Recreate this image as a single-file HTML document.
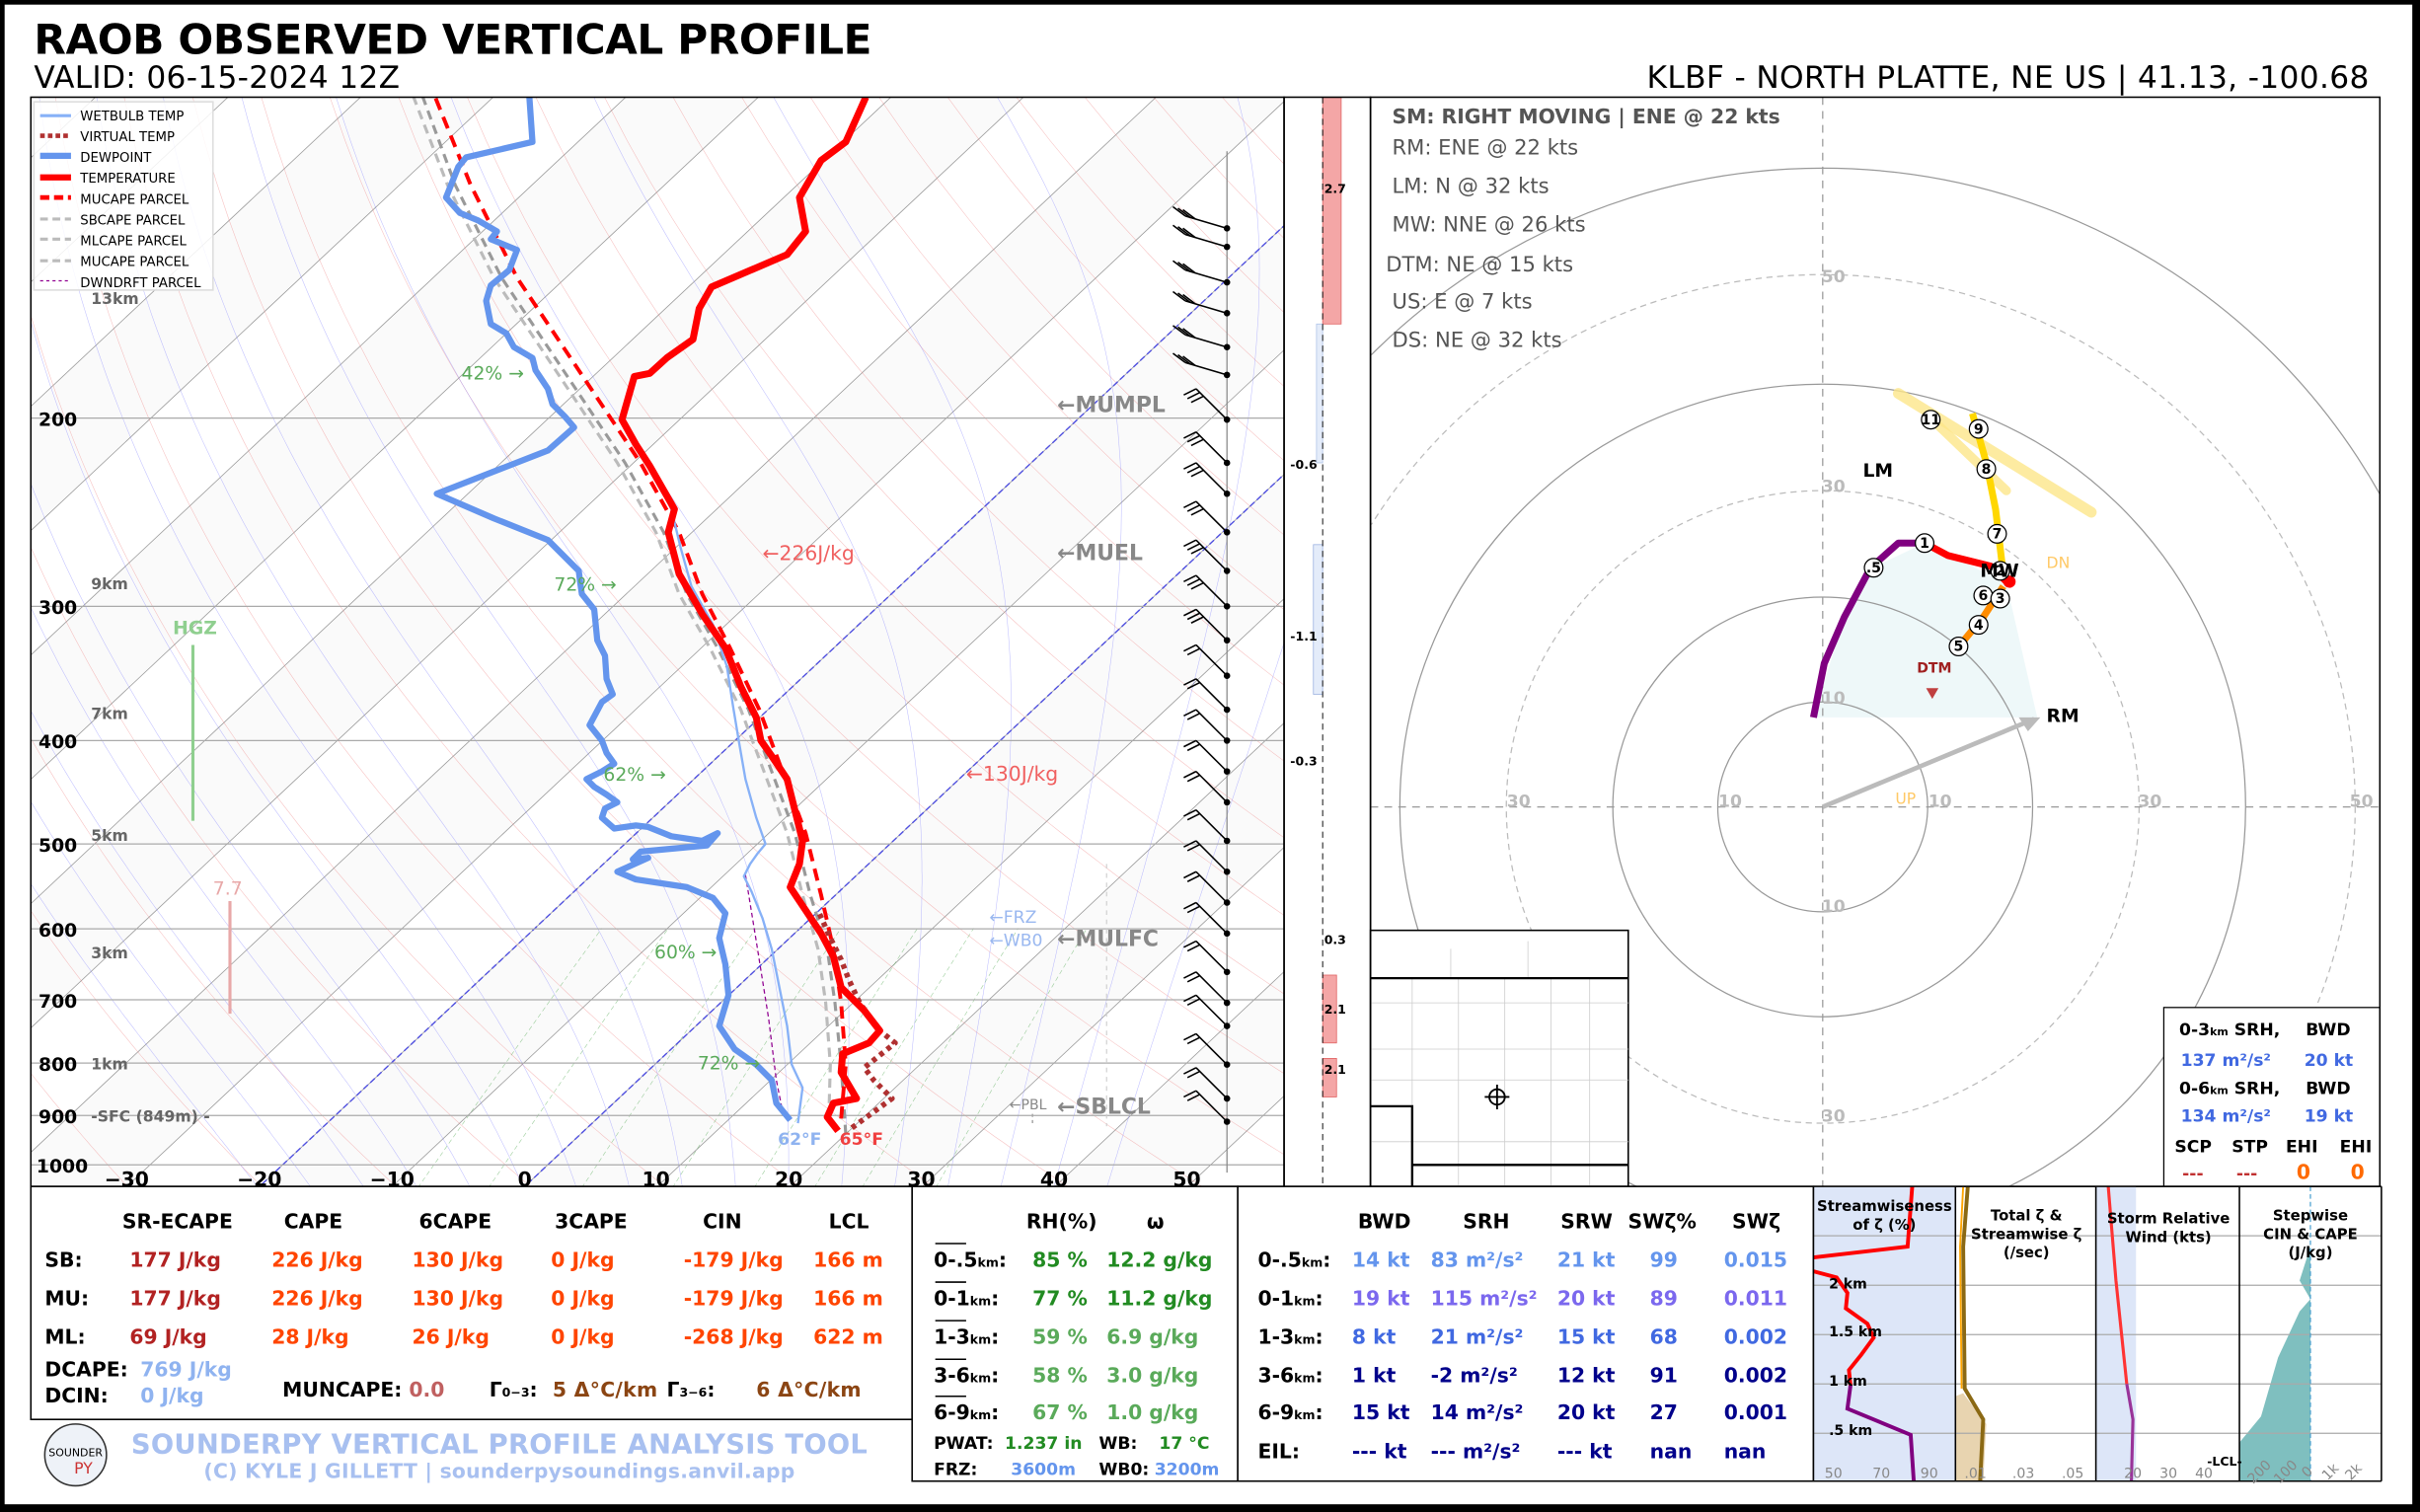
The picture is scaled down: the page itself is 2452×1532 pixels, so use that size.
<!DOCTYPE html>
<html><head><meta charset="utf-8"><style>
html,body{margin:0;padding:0;background:#000;}
svg{display:block;}
text{font-family:"DejaVu Sans","Liberation Sans",sans-serif;}
</style></head><body>
<svg id="s" width="2452" height="1532" viewBox="0 0 1568 980" preserveAspectRatio="none" xmlns="http://www.w3.org/2000/svg">
<rect x="0" y="0" width="1568" height="980" fill="#000"/>
<rect x="3" y="3" width="1560" height="972" fill="#fff"/>
<defs><clipPath id="ck"><rect x="20" y="63" width="812" height="706"/></clipPath>
<clipPath id="ch"><rect x="888" y="63" width="654" height="706"/></clipPath></defs>

<text x="22" y="35" font-size="27" font-weight="bold" textLength="543">RAOB OBSERVED VERTICAL PROFILE</text>
<text x="22" y="57" font-size="20" textLength="237">VALID: 06-15-2024 12Z</text>
<text x="1535" y="57" font-size="20" text-anchor="end" textLength="468">KLBF - NORTH PLATTE, NE US | 41.13, -100.68</text>

<g id="bg" clip-path="url(#ck)"></g>
<g clip-path="url(#ck)" fill="none" stroke-linejoin="round">
<g stroke="#aaa" stroke-width="0.8">
<line x1="20" x2="888" y1="271" y2="271"/><line x1="20" x2="888" y1="393" y2="393"/><line x1="20" x2="888" y1="480" y2="480"/><line x1="20" x2="888" y1="547" y2="547"/><line x1="20" x2="888" y1="602" y2="602"/><line x1="20" x2="888" y1="648" y2="648"/><line x1="20" x2="888" y1="689" y2="689"/><line x1="20" x2="888" y1="723" y2="723"/><line x1="20" x2="888" y1="755" y2="755"/>
</g>
<polyline stroke="#bbb" stroke-width="2" stroke-dasharray="6,4" points="537,725 538,690 535,650 530,615 520,580 510,540 495,500 480,460 460,420 440,385 425,345 400,300 360,240 320,180 290,120 268,63"/>
<polyline stroke="#999" stroke-width="2" stroke-dasharray="6,4" points="548,735 545,690 541,650 536,615 525,580 515,540 500,500 485,460 465,420 445,385 430,345 405,300 365,240 325,180 295,120 274,63"/>
<polyline stroke="#f00" stroke-width="2.5" stroke-dasharray="8,5" points="545,725 548,690 545,650 540,615 532,580 522,540 507,500 492,460 473,420 455,385 440,345 415,300 375,240 335,180 305,120 282,63"/>
<polyline stroke="#900090" stroke-width="0.8" stroke-dasharray="3,2" points="483,567 490,610 498,660 503,700 508,725"/>
<polyline stroke="#87b1f7" stroke-width="1.5" points="517,728 520,705 513,690 510,665 505,640 500,615 494,595 487,578 482,568 486,560 491,553 496,547 490,530 483,505 479,482 475,458 471,432 462,405 448,380 441,355 435,330 420,300 404,272"/>
<polyline stroke="#6495ed" stroke-width="4" points="343,63 345,92 302,102 297,108 289,128 298,138 310,143 322,150 318,155 335,162 330,175 318,185 315,195 318,210 328,216 333,225 345,232 347,240 355,252 358,262 366,270 372,277 355,292 283,320 320,336 355,350 375,370 376,378 377,385 385,395 387,415 392,425 393,440 397,450 390,455 382,470 390,480 393,488 398,495 390,500 380,505 385,510 393,515 400,520 392,524 390,530 398,537 412,535 420,536 435,542 455,545 465,540 458,548 415,552 410,557 420,556 400,565 412,570 445,575 462,582 470,592 466,608 470,625 472,645 466,665 476,680 490,690 500,700 503,715 512,726"/>
<polyline stroke="#b03030" stroke-width="3.5" stroke-dasharray="3,3" points="552,731 578,712 566,700 560,692 580,676 570,668 557,650 550,635 545,622 538,608 530,590"/>
<polyline stroke="#f00" stroke-width="4.5" points="561,63 548,92 532,104 518,128 522,150 510,165 461,186 453,200 449,220 432,232 421,242 411,244 403,272 412,288 421,302 437,330 433,345 440,372 455,398 470,420 480,445 490,465 493,480 500,490 510,505 515,525 520,545 518,560 512,575 522,590 532,605 540,620 545,640 560,655 570,668 563,676 546,683 545,695 555,712 540,715 536,724 543,733"/>
</g>
<rect x="20" y="63" width="812" height="706" fill="none" stroke="#000" stroke-width="1"/>

<g font-weight="bold" fill="#888" font-size="14">
<text x="685" y="267">←MUMPL</text><text x="685" y="363">←MUEL</text><text x="685" y="613">←MULFC</text><text x="685" y="722">←SBLCL</text>
</g>
<text x="654" y="719" font-size="9" fill="#888">←PBL</text>
<line x1="669" y1="722" x2="669" y2="730" stroke="#aaa" stroke-dasharray="2,2"/>
<line x1="717" y1="560" x2="717" y2="730" stroke="#ccc" stroke-width="0.7" stroke-dasharray="3,3"/>
<text x="641" y="598" font-size="11" fill="#9ab8f0">←FRZ</text><text x="641" y="613" font-size="11" fill="#9ab8f0">←WB0</text>
<text x="494" y="363" font-size="13" fill="#f06060">←226J/kg</text><text x="626" y="506" font-size="13" fill="#f06060">←130J/kg</text>
<g font-size="12" fill="#5aaa5a"><text x="299" y="246">42% →</text><text x="359" y="383">72% →</text><text x="391" y="506">62% →</text><text x="424" y="621">60% →</text><text x="452" y="693">72% →</text></g>
<g font-size="10" fill="#666" font-weight="bold"><text x="59" y="197">13km</text><text x="59" y="382">9km</text><text x="59" y="466">7km</text><text x="59" y="545">5km</text><text x="59" y="621">3km</text><text x="59" y="693">1km</text><text x="59" y="727">-SFC (849m) -</text></g>
<text x="112" y="411" font-size="12" fill="#8fcf8f" font-weight="bold">HGZ</text>
<line x1="125" y1="418" x2="125" y2="532" stroke="#8fcf8f" stroke-width="2"/>
<text x="138" y="580" font-size="12" fill="#e8a8a8">7.7</text>
<line x1="149" y1="584" x2="149" y2="657" stroke="#e8a8a8" stroke-width="2"/>
<text x="504" y="742" font-size="11" fill="#8fb3f0" font-weight="bold">62°F</text>
<text x="544" y="742" font-size="11" fill="#f04040" font-weight="bold">65°F</text>
<g font-size="12" font-weight="bold" text-anchor="end">
<text x="50" y="276">200</text><text x="50" y="398">300</text><text x="50" y="485">400</text><text x="50" y="552">500</text><text x="50" y="607">600</text><text x="50" y="653">700</text><text x="50" y="694">800</text><text x="50" y="728">900</text><text x="57" y="760">1000</text></g>
<g font-size="13" font-weight="bold" text-anchor="middle">
<text x="82" y="769">−30</text><text x="168" y="769">−20</text><text x="254" y="769">−10</text><text x="340" y="769">0</text><text x="425" y="769">10</text><text x="511" y="769">20</text><text x="597" y="769">30</text><text x="683" y="769">40</text><text x="769" y="769">50</text></g>

<rect x="22" y="66" width="116" height="122" fill="#fff" fill-opacity="0.85" stroke="#ddd"/>
<g font-size="8.5"><text x="52" y="78">WETBULB TEMP</text><text x="52" y="91.5">VIRTUAL TEMP</text><text x="52" y="105">DEWPOINT</text><text x="52" y="118.5">TEMPERATURE</text><text x="52" y="132">MUCAPE PARCEL</text><text x="52" y="145.5">SBCAPE PARCEL</text><text x="52" y="159">MLCAPE PARCEL</text><text x="52" y="172.5">MUCAPE PARCEL</text><text x="52" y="186">DWNDRFT PARCEL</text></g>
<g stroke-width="2"><line x1="26" x2="46" y1="75" y2="75" stroke="#87b1f7"/><line x1="26" x2="46" y1="88" y2="88" stroke="#b03030" stroke-width="3" stroke-dasharray="3,2"/><line x1="26" x2="46" y1="101" y2="101" stroke="#6495ed" stroke-width="4"/><line x1="26" x2="46" y1="115" y2="115" stroke="#f00" stroke-width="4"/><line x1="26" x2="46" y1="128" y2="128" stroke="#f00" stroke-width="3" stroke-dasharray="6,3"/><line x1="26" x2="46" y1="142" y2="142" stroke="#bbb" stroke-dasharray="5,3"/><line x1="26" x2="46" y1="155" y2="155" stroke="#bbb" stroke-dasharray="5,3"/><line x1="26" x2="46" y1="169" y2="169" stroke="#bbb" stroke-dasharray="5,3"/><line x1="26" x2="46" y1="182" y2="182" stroke="#900090" stroke-width="0.8" stroke-dasharray="2,2"/></g>

<line x1="795" y1="98" x2="795" y2="760" stroke="#888" stroke-width="0.8"/>
<g id="barbs" stroke="#000" stroke-width="1" fill="none"></g>

<rect x="857" y="63" width="12" height="147" fill="#f4a6a6" stroke="#e06060" stroke-width="0.5"/>
<rect x="853" y="210" width="4" height="90" fill="#e4ecfa" stroke="#b0c4e8" stroke-width="0.5"/>
<rect x="851" y="353" width="6" height="97" fill="#e4ecfa" stroke="#9ab0e0" stroke-width="0.5"/>
<rect x="857" y="632" width="9" height="44" fill="#f4a6a6" stroke="#e06060" stroke-width="0.5"/>
<rect x="857" y="686" width="9" height="25" fill="#f4a6a6" stroke="#e06060" stroke-width="0.5"/>
<line x1="857" y1="63" x2="857" y2="769" stroke="#000" stroke-width="0.6" stroke-dasharray="4,3"/>
<g font-size="8" font-weight="bold"><text x="858" y="125">2.7</text><text x="836" y="304">-0.6</text><text x="836" y="415">-1.1</text><text x="836" y="496">-0.3</text><text x="858" y="612">0.3</text><text x="858" y="657">2.1</text><text x="858" y="696">2.1</text></g>
<rect x="832" y="63" width="56" height="706" fill="none" stroke="#000" stroke-width="1"/>

<g clip-path="url(#ch)">
<path d="M1175,465 L1195,400 L1213,368 L1247,352 L1300,378 L1320,465 Z" fill="#eaf6f8" fill-opacity="0.8"/>
<g fill="none" stroke="#999">
<circle cx="1181" cy="523" r="68" stroke-width="0.8"/>
<circle cx="1181" cy="523" r="136" stroke-width="0.8"/>
<circle cx="1181" cy="523" r="205" stroke-width="0.8" stroke-dasharray="4,3" stroke="#bbb"/>
<circle cx="1181" cy="523" r="274" stroke-width="0.8"/>
<circle cx="1181" cy="523" r="345" stroke-width="0.8" stroke-dasharray="4,3" stroke="#bbb"/>
<circle cx="1181" cy="523" r="414" stroke-width="0.8"/>
<line x1="1181" y1="63" x2="1181" y2="769" stroke-dasharray="5,4" stroke-width="0.8"/>
<line x1="888" y1="523" x2="1542" y2="523" stroke-dasharray="5,4" stroke-width="0.8"/>
</g>
<g font-size="11" fill="#bbb" font-weight="bold" text-anchor="middle">
<text x="1188" y="183">50</text><text x="1188" y="319">30</text><text x="1188" y="456">10</text><text x="1188" y="591">10</text><text x="1188" y="727">30</text>
<text x="984" y="523">30</text><text x="1121" y="523">10</text><text x="1257" y="523">10</text><text x="1393" y="523">30</text><text x="1530" y="523">50</text></g>
<polyline points="1230,255 1355,332" stroke="#fde68a" stroke-width="7" fill="none" stroke-linecap="round" opacity="0.8"/>
<polyline points="1250,270 1300,318" stroke="#fde68a" stroke-width="6" fill="none" stroke-linecap="round" opacity="0.8"/>
<line x1="1181" y1="523" x2="1318" y2="466" stroke="#bbb" stroke-width="3"/>
<polygon points="1322,465 1308,465 1314,474" fill="#bbb"/>
<polyline points="1175,465 1182,430 1195,400 1212,368 1230,352 1247,352" stroke="#800080" stroke-width="4.5" fill="none" stroke-linejoin="round"/>
<polyline points="1247,352 1262,360 1290,367 1300,377" stroke="#f00" stroke-width="4.5" fill="none" stroke-linejoin="round"/>
<polyline points="1298,380 1285,400 1270,418" stroke="#ff8c00" stroke-width="4.5" fill="none" stroke-linejoin="round"/>
<polyline points="1298,372 1293,330 1287,300 1278,268" stroke="#ffd700" stroke-width="4.5" fill="none" stroke-linejoin="round"/>
<circle cx="1302" cy="377" r="4" fill="#f00"/>
<g font-size="9" text-anchor="middle" font-weight="bold">
<g fill="#fff" stroke="#000" stroke-width="0.8"><circle cx="1251" cy="272" r="6"/><circle cx="1282" cy="278" r="6"/><circle cx="1287" cy="304" r="6"/><circle cx="1294" cy="346" r="6"/><circle cx="1247" cy="352" r="6"/><circle cx="1214" cy="368" r="6"/><circle cx="1296" cy="370" r="6"/><circle cx="1285" cy="386" r="6"/><circle cx="1296" cy="388" r="6"/><circle cx="1282" cy="405" r="6"/><circle cx="1269" cy="419" r="6"/></g>
<text x="1251" y="275">11</text><text x="1282" y="281">9</text><text x="1287" y="307">8</text><text x="1294" y="349">7</text><text x="1247" y="355">1</text><text x="1214" y="371">.5</text><text x="1296" y="373">2</text><text x="1285" y="389">6</text><text x="1296" y="391">3</text><text x="1282" y="408">4</text><text x="1269" y="422">5</text></g>
<text x="1207" y="309" font-size="12" font-weight="bold">LM</text>
<text x="1283" y="374" font-size="12" font-weight="bold">MW</text>
<text x="1326" y="468" font-size="12" font-weight="bold">RM</text>
<text x="1326" y="368" font-size="10" fill="#ffc966">DN</text>
<text x="1228" y="521" font-size="10" fill="#ffc966">UP</text>
<text x="1242" y="436" font-size="9" fill="#a02020" font-weight="bold">DTM</text>
<polygon points="1248,446 1256,446 1252,453" fill="#c04040"/>
</g>
<g fill="#555"><text x="902" y="80" font-size="13" font-weight="bold">SM: RIGHT MOVING | ENE @ 22 kts</text>
<g font-size="13.5"><text x="902" y="100">RM: ENE @ 22 kts</text><text x="902" y="125">LM: N @ 32 kts</text><text x="902" y="150">MW: NNE @ 26 kts</text><text x="898" y="176">DTM: NE @ 15 kts</text><text x="902" y="200">US: E @ 7 kts</text><text x="902" y="225">DS: NE @ 32 kts</text></g></g>
<rect x="888" y="603" width="167" height="166" fill="#fff" stroke="#000"/>
<g stroke="#ccc" stroke-width="0.5" fill="none">
<path d="M888,650 H1055 M888,680 H1055 M888,700 H1055 M888,740 H1055 M915,634 V769 M945,634 V769 M975,634 V769 M1005,634 V769 M1030,634 V769 M940,615 V634 M990,610 V634"/></g>
<g stroke="#000" stroke-width="1.5" fill="none"><path d="M888,634 H1055 M888,717 H915 V769 M915,755 H1055"/></g>
<circle cx="970" cy="711" r="5" fill="none" stroke="#000" stroke-width="1.2"/><path d="M962,711 H978 M970,703 V719" stroke="#000" stroke-width="1.2"/>
<rect x="1402" y="653" width="140" height="116" fill="#fff" stroke="#000" stroke-width="0.8"/>
<g font-size="11" font-weight="bold"><text x="1412" y="671">0-3<tspan font-size="7">km</tspan> SRH,</text><text x="1494" y="671">BWD</text>
<text x="1413" y="691" fill="#4169e1">137 m²/s²</text><text x="1493" y="691" fill="#4169e1">20 kt</text>
<text x="1412" y="709">0-6<tspan font-size="7">km</tspan> SRH,</text><text x="1494" y="709">BWD</text>
<text x="1413" y="727" fill="#4169e1">134 m²/s²</text><text x="1493" y="727" fill="#4169e1">19 kt</text>
<text x="1409" y="747">SCP</text><text x="1446" y="747">STP</text><text x="1481" y="747">EHI</text><text x="1516" y="747">EHI</text>
<text x="1414" y="764" fill="#c03030">---</text><text x="1449" y="764" fill="#c03030">---</text><text x="1488" y="764" fill="#ff6a00" font-size="13">0</text><text x="1523" y="764" fill="#ff6a00" font-size="13">0</text></g>
<rect x="888" y="63" width="654" height="706" fill="none" stroke="#000" stroke-width="1"/>

<rect x="20" y="769" width="571" height="151" fill="#fff" stroke="#000" stroke-width="1"/>
<g font-size="13" font-weight="bold">
<g text-anchor="middle"><text x="115" y="796">SR-ECAPE</text><text x="203" y="796">CAPE</text><text x="295" y="796">6CAPE</text><text x="383" y="796">3CAPE</text><text x="468" y="796">CIN</text><text x="550" y="796">LCL</text></g>
<text x="29" y="821">SB:</text><text x="29" y="846">MU:</text><text x="29" y="871">ML:</text>
<g fill="#b22222"><text x="84" y="821">177 J/kg</text><text x="84" y="846">177 J/kg</text><text x="84" y="871">69 J/kg</text></g>
<g fill="#ff4500"><text x="176" y="821">226 J/kg</text><text x="176" y="846">226 J/kg</text><text x="176" y="871">28 J/kg</text>
<text x="267" y="821">130 J/kg</text><text x="267" y="846">130 J/kg</text><text x="267" y="871">26 J/kg</text>
<text x="357" y="821">0 J/kg</text><text x="357" y="846">0 J/kg</text><text x="357" y="871">0 J/kg</text>
<text x="443" y="821">-179 J/kg</text><text x="443" y="846">-179 J/kg</text><text x="443" y="871">-268 J/kg</text>
<text x="527" y="821">166 m</text><text x="527" y="846">166 m</text><text x="527" y="871">622 m</text></g>
<text x="29" y="892">DCAPE:</text><text x="91" y="892" fill="#8fb3f0">769 J/kg</text>
<text x="29" y="909">DCIN:</text><text x="91" y="909" fill="#8fb3f0">0 J/kg</text>
<text x="183" y="905">MUNCAPE:</text><text x="265" y="905" fill="#c06060">0.0</text>
<text x="317" y="905">Γ<tspan font-size="8">0−3</tspan>:</text><text x="358" y="905" fill="#8b4513" textLength="68">5 Δ°C/km</text>
<text x="432" y="905">Γ<tspan font-size="8">3−6</tspan>:</text><text x="490" y="905" fill="#8b4513" textLength="68">6 Δ°C/km</text>
</g>
<circle cx="49" cy="943" r="20" fill="#eef2f8" stroke="#333" stroke-width="1"/>
<text x="49" y="944" font-size="7" text-anchor="middle">SOUNDER</text><text x="54" y="955" font-size="10" fill="#c33" text-anchor="middle">PY</text>
<text x="85" y="942" font-size="17.5" font-weight="bold" fill="#a8c0f0" textLength="477">SOUNDERPY VERTICAL PROFILE ANALYSIS TOOL</text>
<text x="132" y="958" font-size="13" font-weight="bold" fill="#a8c0f0" textLength="383">(C) KYLE J GILLETT | sounderpysoundings.anvil.app</text>

<rect x="591" y="769" width="211" height="191" fill="#fff" stroke="#000" stroke-width="1"/>
<g font-size="13" font-weight="bold">
<text x="665" y="796">RH(%)</text><text x="743" y="796">ω</text>
<text x="605" y="821">0-.5<tspan font-size="8">km</tspan>:</text><text x="605" y="846">0-1<tspan font-size="8">km</tspan>:</text><text x="605" y="871">1-3<tspan font-size="8">km</tspan>:</text><text x="605" y="896">3-6<tspan font-size="8">km</tspan>:</text><text x="605" y="920">6-9<tspan font-size="8">km</tspan>:</text>
<g fill="#228b22"><text x="669" y="821">85 %</text><text x="717" y="821">12.2 g/kg</text><text x="669" y="846">77 %</text><text x="717" y="846">11.2 g/kg</text></g>
<g fill="#5aaa5a"><text x="669" y="871">59 %</text><text x="717" y="871">6.9 g/kg</text><text x="669" y="896">58 %</text><text x="717" y="896">3.0 g/kg</text><text x="669" y="920">67 %</text><text x="717" y="920">1.0 g/kg</text></g>
</g>
<g stroke="#000" stroke-width="1"><line x1="606" x2="626" y1="806" y2="806"/><line x1="606" x2="626" y1="831" y2="831"/><line x1="606" x2="626" y1="856" y2="856"/><line x1="606" x2="626" y1="881" y2="881"/><line x1="606" x2="626" y1="905" y2="905"/></g>
<g font-size="11" font-weight="bold"><text x="605" y="939">PWAT:</text><text x="651" y="939" fill="#228b22">1.237 in</text><text x="712" y="939">WB:</text><text x="751" y="939" fill="#228b22">17 °C</text>
<text x="605" y="956">FRZ:</text><text x="655" y="956" fill="#6495ed">3600m</text><text x="712" y="956">WB0:</text><text x="748" y="956" fill="#6495ed">3200m</text></g>

<rect x="802" y="769" width="373" height="191" fill="#fff" stroke="#000" stroke-width="1"/>
<g font-size="13" font-weight="bold">
<g text-anchor="middle"><text x="897" y="796">BWD</text><text x="963" y="796">SRH</text><text x="1028" y="796">SRW</text><text x="1077" y="796">SWζ%</text><text x="1138" y="796">SWζ</text></g>
<text x="815" y="821">0-.5<tspan font-size="8">km</tspan>:</text><text x="815" y="846">0-1<tspan font-size="8">km</tspan>:</text><text x="815" y="871">1-3<tspan font-size="8">km</tspan>:</text><text x="815" y="896">3-6<tspan font-size="8">km</tspan>:</text><text x="815" y="920">6-9<tspan font-size="8">km</tspan>:</text><text x="815" y="945">EIL:</text>
<g fill="#6495ed"><text x="876" y="821">14 kt</text><text x="927" y="821">83 m²/s²</text><text x="1009" y="821">21 kt</text><text x="1069" y="821">99</text><text x="1117" y="821">0.015</text></g>
<g fill="#7b68ee"><text x="876" y="846">19 kt</text><text x="927" y="846">115 m²/s²</text><text x="1009" y="846">20 kt</text><text x="1069" y="846">89</text><text x="1117" y="846">0.011</text></g>
<g fill="#4169e1"><text x="876" y="871">8 kt</text><text x="927" y="871">21 m²/s²</text><text x="1009" y="871">15 kt</text><text x="1069" y="871">68</text><text x="1117" y="871">0.002</text></g>
<g fill="#00008b"><text x="876" y="896">1 kt</text><text x="927" y="896">-2 m²/s²</text><text x="1009" y="896">12 kt</text><text x="1069" y="896">91</text><text x="1117" y="896">0.002</text>
<text x="876" y="920">15 kt</text><text x="927" y="920">14 m²/s²</text><text x="1009" y="920">20 kt</text><text x="1069" y="920">27</text><text x="1117" y="920">0.001</text>
<text x="876" y="945">--- kt</text><text x="927" y="945">--- m²/s²</text><text x="1009" y="945">--- kt</text><text x="1069" y="945">nan</text><text x="1117" y="945">nan</text></g>
</g>

<rect x="1175" y="769" width="92" height="191" fill="#dde6f8"/>
<rect x="1358" y="769" width="26" height="191" fill="#dde6f8"/>
<path d="M1267,960 L1267,905 L1272,903 L1287,923 L1285,960 Z" fill="#e8d4b0"/>
<path d="M1451,960 L1451,935 L1465,918 L1476,880 L1490,850 L1497,842 L1490,830 L1497,808 L1497,960 Z" fill="#7fbfbf"/>
<g stroke="#aaa" stroke-width="0.8"><line x1="1175" x2="1543" y1="801" y2="801"/><line x1="1175" x2="1543" y1="833" y2="833"/><line x1="1175" x2="1543" y1="865" y2="865"/><line x1="1175" x2="1543" y1="897" y2="897"/><line x1="1175" x2="1543" y1="929" y2="929"/></g>
<line x1="1497" y1="769" x2="1497" y2="960" stroke="#4aa0d0" stroke-width="0.8" stroke-dasharray="3,2"/>
<polyline points="1239,769 1236,808 1175,815" fill="none" stroke="#f00" stroke-width="2.5"/>
<polyline points="1175,824 1190,828 1197,838 1196,848 1210,858 1214,867 1206,878 1198,888 1199,898" fill="none" stroke="#f00" stroke-width="2.5"/>
<polyline points="1199,898 1197,913 1238,930 1240,960" fill="none" stroke="#800080" stroke-width="2.5"/>
<polyline points="1275,769 1272,808 1273,900 1285,920 1283,960" fill="none" stroke="#8b6914" stroke-width="2.5"/>
<polyline points="1272,769 1270,808 1271,900" fill="none" stroke="#ffa500" stroke-width="1.2"/>
<polyline points="1366,769 1371,830 1378,897" fill="none" stroke="#f33" stroke-width="2"/>
<polyline points="1378,897 1382,920 1381,960" fill="none" stroke="#993399" stroke-width="2"/>
<g stroke="#000" stroke-width="1"><line x1="1175" x2="1175" y1="769" y2="960"/><line x1="1267" x2="1267" y1="769" y2="960"/><line x1="1358" x2="1358" y1="769" y2="960"/><line x1="1451" x2="1451" y1="769" y2="960"/><line x1="1543" x2="1543" y1="769" y2="960"/><line x1="1175" x2="1543" y1="769" y2="769"/><line x1="1175" x2="1543" y1="960" y2="960"/></g>
<g font-size="9.5" font-weight="bold" text-anchor="middle"><text x="1221" y="785">Streamwiseness</text><text x="1221" y="797">of ζ (%)</text>
<text x="1313" y="791">Total ζ &amp;</text><text x="1313" y="803">Streamwise ζ</text><text x="1313" y="815">(/sec)</text>
<text x="1405" y="793">Storm Relative</text><text x="1405" y="805">Wind (kts)</text>
<text x="1497" y="791">Stepwise</text><text x="1497" y="803">CIN &amp; CAPE</text><text x="1497" y="815">(J/kg)</text></g>
<g font-size="9" font-weight="bold"><text x="1185" y="835">2 km</text><text x="1185" y="866">1.5 km</text><text x="1185" y="898">1 km</text><text x="1185" y="930">.5 km</text><text x="1430" y="950" font-size="8">-LCL-</text></g>
<g font-size="9" fill="#888" text-anchor="middle"><text x="1188" y="958">50</text><text x="1219" y="958">70</text><text x="1250" y="958">90</text><text x="1280" y="958">.01</text><text x="1311" y="958">.03</text><text x="1343" y="958">.05</text><text x="1382" y="958">20</text><text x="1405" y="958">30</text><text x="1428" y="958">40</text>
<text x="1466" y="956" transform="rotate(-45 1466 956)">200</text><text x="1483" y="956" transform="rotate(-45 1483 956)">100</text><text x="1497" y="956" transform="rotate(-45 1497 956)">0</text><text x="1512" y="956" transform="rotate(-45 1512 956)">1k</text><text x="1527" y="956" transform="rotate(-45 1527 956)">2k</text></g>
</svg>
<script>
(function(){
var NS="http://www.w3.org/2000/svg";
function Y(p){return -1322+300.7*Math.log(p);}
function X(T,p){return 340+8.59*T+1.066*(769-Y(p));}
var bg=document.getElementById('bg');
function add(tag,attrs,parent){var e=document.createElementNS(NS,tag);for(var k in attrs)e.setAttribute(k,attrs[k]);(parent||bg).appendChild(e);return e;}
var d='';
for(var T=-160;T<=60;T+=20){d+='M'+X(T,1100)+','+Y(1100)+'L'+X(T,90)+','+Y(90)+'L'+X(T+10,90)+','+Y(90)+'L'+X(T+10,1100)+','+Y(1100)+'Z';}
add('path',{d:d,fill:'#fafafa'});
d='';
for(var T=-160;T<=70;T+=10){d+='M'+X(T,1100)+','+Y(1100)+'L'+X(T,90)+','+Y(90);}
add('path',{d:d,stroke:'#999','stroke-width':0.5,fill:'none'});
d='';
for(var th=230;th<=500;th+=10){for(var p=1100;p>=90;p-=10){var t=th*Math.pow(p/1000,0.286)-273.15;d+=(p==1100?'M':'L')+X(t,p).toFixed(1)+','+Y(p).toFixed(1);}}
add('path',{d:d,stroke:'#f08080','stroke-width':0.35,fill:'none',opacity:0.5});
d='';
function es(t){return 6.112*Math.exp(17.67*t/(t+243.5));}
for(var t0=-20;t0<=44;t0+=4){var T=t0+273.15,p=1050;d+='M'+X(t0,p).toFixed(1)+','+Y(p).toFixed(1);
for(var i=0;i<200&&p>100;i++){var dp=-5;var rs=0.622*es(T-273.15)/(p-es(T-273.15));var num=287*T+2.5e6*rs;var den=1004+2.5e6*2.5e6*rs*0.622/(287*T*T);var dT=num/den/p*dp;T+=dT;p+=dp;d+='L'+X(T-273.15,p).toFixed(1)+','+Y(p).toFixed(1);}}
add('path',{d:d,stroke:'#8080ff','stroke-width':0.35,fill:'none',opacity:0.5});
d='';
[2,3,5,8,12,16,20,28].forEach(function(w){for(var p=1050;p>=600;p-=25){var e=w*p/(622+w);var l=Math.log(e/6.112);var td=243.5*l/(17.67-l);d+=(p==1050?'M':'L')+X(td,p).toFixed(1)+','+Y(p).toFixed(1);}});
add('path',{d:d,stroke:'#60b060','stroke-width':0.4,fill:'none','stroke-dasharray':'3,2',opacity:0.6});
add('path',{d:'M'+X(-20,1100)+','+Y(1100)+'L'+X(-20,90)+','+Y(90)+'M'+X(0,1100)+','+Y(1100)+'L'+X(0,90)+','+Y(90),stroke:'#5050e0','stroke-width':0.9,fill:'none','stroke-dasharray':'4,2'});
var b=document.getElementById('barbs');
var ys=[148,160,183,203,225,243,272,300,320,345,370,393,415,438,460,480,500,520,545,565,585,605,630,650,665,690,712,727];
ys.forEach(function(y,i){var top=i<6;
var ex=top?768:775,ey=top?y-8:y-20;
add('line',{x1:795,y1:y,x2:ex,y2:ey},b);
var n=top?3:(i<13?3:2);
for(var k=0;k<n;k++){var fx=ex+k*(795-ex)*0.12,fy=ey+k*(y-ey)*0.12;add('line',{x1:fx,y1:fy,x2:fx-8,y2:fy+(top?-6:4)},b);}
add('circle',{cx:795,cy:y,r:1.6,fill:'#000'},b);});
})();
</script>
</body></html>
